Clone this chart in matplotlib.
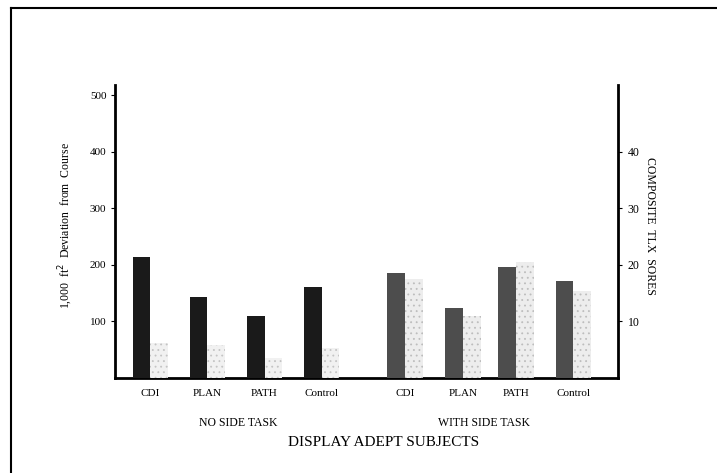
import numpy as np
import matplotlib.pyplot as plt
from matplotlib.lines import Line2D

plt.rcParams['font.family'] = ['Liberation Serif', 'DejaVu Serif']
plt.rcParams['hatch.linewidth'] = 0.6

# data
conditions = ['CDI', 'PLAN', 'PATH', 'Control']
groups = ['NO SIDE TASK', 'WITH SIDE TASK']
deviation_no = [214, 144, 110, 160]      # 1,000 ft^2 deviation (left axis)
deviation_with = [186, 123, 197, 172]
tlx_no = [6.1, 5.8, 3.5, 5.3]            # composite TLX (right axis)
tlx_with = [17.5, 11.0, 20.5, 15.4]

fig = plt.figure(figsize=(7.17, 4.73), dpi=100)
ax = fig.add_axes([0.160, 0.201, 0.702, 0.619])
ax2 = ax.twinx()

w = 0.31
pos_no = np.arange(4) + 0.47
pos_with = np.array([4.93, 5.95, 6.88, 7.88])

ax.bar(pos_no, deviation_no, width=w, color='#1a1a1a', zorder=3)
ax.bar(pos_with, deviation_with, width=w, color='#4d4d4d', zorder=3)
# stippled light bars
ax2.bar(pos_no + w, tlx_no, width=w, color='#f1f1f1', hatch='...',
        edgecolor='#c4c4c4', linewidth=0, zorder=2)
ax2.bar(pos_with + w, tlx_with, width=w, color='#ededed', hatch='...',
        edgecolor='#bdbdbd', linewidth=0, zorder=2)

ax.set_xlim(0, 8.82)
ax.set_ylim(0, 518)
ax2.set_ylim(0, 51.8)

ax.set_yticks([100, 200, 300, 400, 500])
ax2.set_yticks([10, 20, 30, 40])
ax.tick_params(axis='y', direction='out', length=3, width=0.8, labelsize=8, pad=3)
ax2.tick_params(axis='y', direction='out', length=3, width=0.8, labelsize=8.5, pad=4)

xt = np.concatenate([pos_no, pos_with]) + w / 2
ax.set_xticks(xt)
ax.set_xticklabels(conditions + conditions, fontsize=8)
ax.tick_params(axis='x', length=0, pad=8)

for a in (ax, ax2):
    a.spines['top'].set_visible(False)
ax.spines['right'].set_visible(False)
ax2.spines['left'].set_visible(False)
ax2.spines['bottom'].set_visible(False)
ax.spines['left'].set_linewidth(2)
ax.spines['bottom'].set_linewidth(2)
ax2.spines['right'].set_linewidth(2)

ax.set_ylabel('1,000  ft$^2$  Deviation  from  Course', fontsize=8.5)
ax.yaxis.set_label_coords(-0.078, 0.52)
ax2.set_ylabel('COMPOSITE  TLX  SORES', fontsize=8.5, rotation=-90)
ax2.yaxis.set_label_coords(1.075, 0.52)

fig.text(238 / 717, 1 - 423 / 473, groups[0], fontsize=8.5, ha='center', va='center')
fig.text(484 / 717, 1 - 423 / 473, groups[1], fontsize=8.5, ha='center', va='center')
fig.text(384 / 717, 1 - 442 / 473, 'DISPLAY ADEPT SUBJECTS', fontsize=11,
         ha='center', va='center')

# page frame (left and top edges of the scanned box)
fig.add_artist(Line2D([11 / 717, 11 / 717], [0, 1 - 8 / 473], color='black', lw=1.5,
                      transform=fig.transFigure))
fig.add_artist(Line2D([11 / 717, 1], [1 - 8 / 473, 1 - 8 / 473], color='black', lw=1.5,
                      transform=fig.transFigure))

fig.savefig('out.png', dpi=100)
